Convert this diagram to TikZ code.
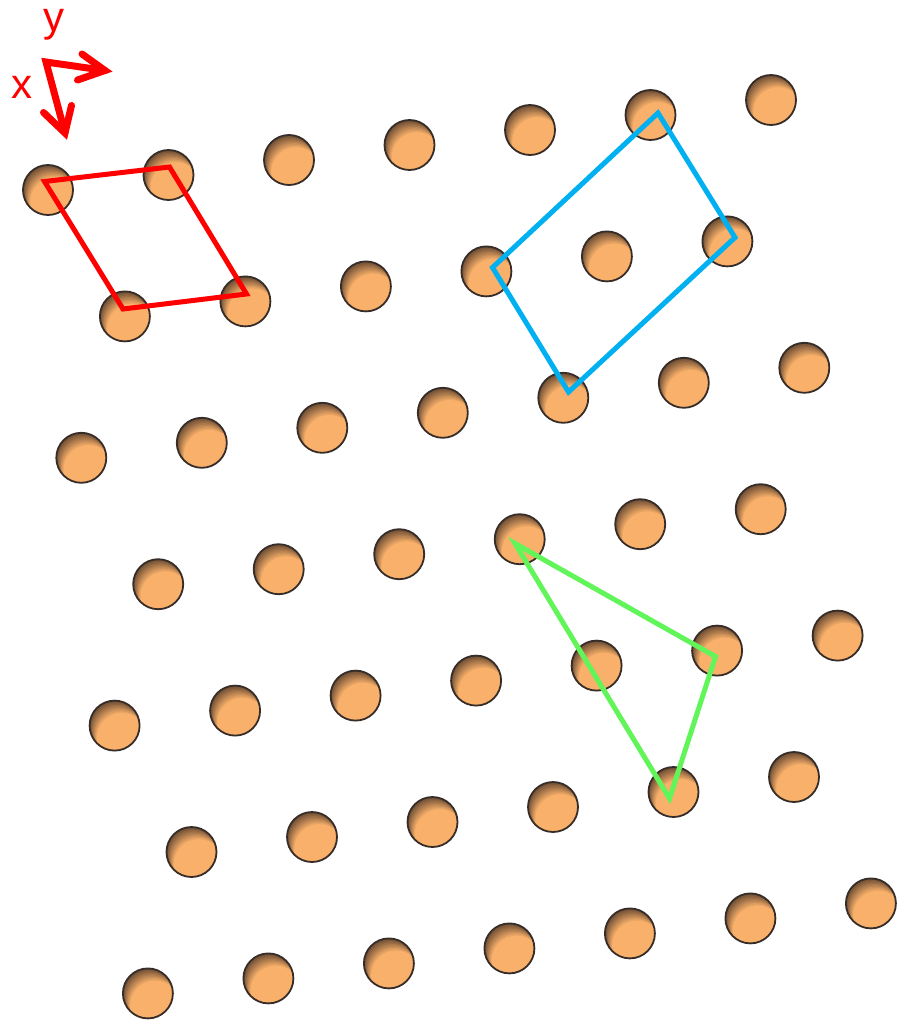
\documentclass[tikz,border=0pt]{standalone}
\usepackage{fontspec}
\setmainfont{Liberation Sans}
\begin{document}
\definecolor{atomfill}{RGB}{249,176,106}
\definecolor{atomshadow}{RGB}{110,78,52}
\definecolor{atomline}{RGB}{55,45,40}
\definecolor{cellred}{RGB}{255,0,0}
\definecolor{cellblue}{RGB}{0,176,240}
\definecolor{cellgreen}{RGB}{98,245,90}
\tikzset{
  atomedge/.style={draw=atomline, line width=1.8pt},
  cellline/.style={line width=5pt, line join=miter},
  axisline/.style={draw=cellred, line width=7pt, line join=miter, line cap=round},
  axislabel/.style={text=cellred, font=\fontsize{42}{48}\selectfont, inner sep=0pt, anchor=base},
}
% one atom: orange disc with a soft dark rim towards the top left
\newcommand\latticeatom[2]{%
  \begin{scope}
    \clip (#1,#2) circle[radius=25pt];
    \foreach \s in {0,...,9}{
      \pgfmathtruncatemacro\p{\s*100/9}
      \fill[atomfill!\p!atomshadow] (#1+\s*0.8,#2+\s*1.35) circle[radius=25pt];
    }
  \end{scope}
  \draw[atomedge] (#1,#2) circle[radius=25pt];
}
\begin{tikzpicture}[x=1pt,y=-1pt]
\useasboundingbox (0,0) rectangle (905,1024);
% oblique lattice: a = (120.5,-15), b = (76.9,126.4)
\foreach \k in {0,...,6}{
  \pgfmathtruncatemacro\n{6-mod(\k,2)}
  \pgfmathsetmacro\sx{48+\k*76.9-floor(\k/2)*120.5}
  \pgfmathsetmacro\sy{190+\k*126.4+floor(\k/2)*15}
  \foreach \j in {0,...,\n}{
    \pgfmathsetmacro\cx{\sx+\j*120.5}
    \pgfmathsetmacro\cy{\sy-\j*15}
    \latticeatom{\cx}{\cy}
  }
}
% primitive cell
\coordinate (r1) at (44.5,181.5);
\coordinate (r2) at (169.5,167);
\coordinate (r3) at (246.5,294);
\coordinate (r4) at (123,309);
\draw[cellline, cellred] (r1) -- (r2) -- (r3) -- (r4) -- cycle;
% centred rectangular cell
\coordinate (b1) at (658,113);
\coordinate (b2) at (735,237.5);
\coordinate (b3) at (568.5,392);
\coordinate (b4) at (492.5,267.5);
\draw[cellline, cellblue] (b1) -- (b2) -- (b3) -- (b4) -- cycle;
% triangle
\coordinate (g1) at (515,543.5);
\coordinate (g2) at (715.5,656.5);
\coordinate (g3) at (669.5,798.5);
\draw[cellline, cellgreen] (g1) -- (g2) -- (g3) -- cycle;
% axes
\coordinate (o) at (46,62);
\coordinate (ytip) at (105,70.5);
\coordinate (xtip) at (65,133);
\coordinate (ya) at (82,54);
\coordinate (yb) at (77.5,80);
\coordinate (xa) at (43.5,112.5);
\coordinate (xb) at (71.5,105.5);
\draw[axisline] (ytip) -- (o) -- (xtip);
\draw[axisline] (ya) -- (ytip) -- (yb);
\draw[axisline] (xa) -- (xtip) -- (xb);
\node[axislabel] (ylab) at (53.5,31.5) {y};
\node[axislabel] (xlab) at (22.5,99) {x};
\end{tikzpicture}
\end{document}
